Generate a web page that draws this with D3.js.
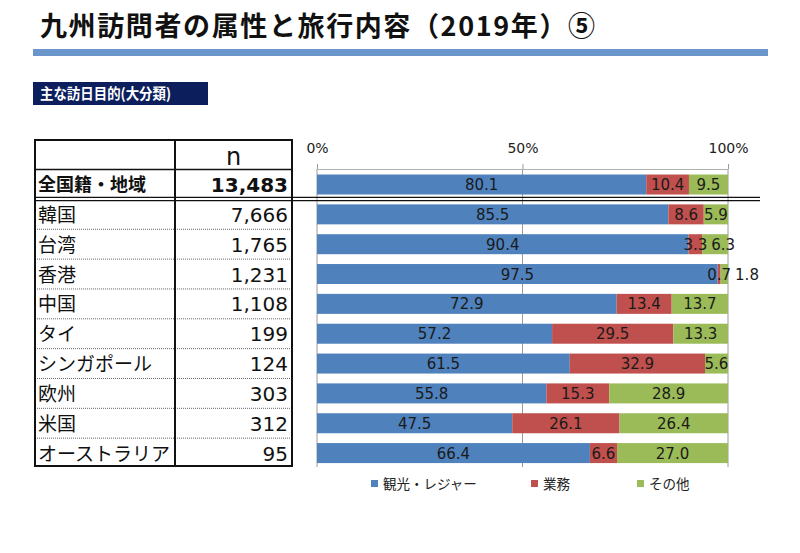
<!DOCTYPE html>
<html><head><meta charset="utf-8">
<script src="https://cdn.jsdelivr.net/npm/d3@7"></script>
<style>
html,body{margin:0;padding:0;background:#fff;}
svg{display:block;}
</style>
</head><body>
<svg id="chart" width="800" height="553"></svg>
<script>
const title = "九州訪問者の属性と旅行内容（2019年）⑤";
const subtitle = "主な訪日目的(大分類)";
const categories = ["全国籍・地域","韓国","台湾","香港","中国","タイ","シンガポール","欧州","米国","オーストラリア"];
const nValues = [13483,7666,1765,1231,1108,199,124,303,312,95];
const seriesNames = ["観光・レジャー","業務","その他"];
const leisure = [80.1,85.5,90.4,97.5,72.9,57.2,61.5,55.8,47.5,66.4];
const business = [10.4,8.6,3.3,0.7,13.4,29.5,32.9,15.3,26.1,6.6];
const other = [9.5,5.9,6.3,1.8,13.7,13.3,5.6,28.9,26.4,27.0];
const tickValues = [0,50,100];
const colors = ["#4f81bd","#c0504d","#9bbb59"];

const svg = d3.select("#chart");
const JP = "'Noto Sans CJK JP', sans-serif";
const NUM = "'DejaVu Sans', sans-serif";

svg.append("rect").attr("width",800).attr("height",553).attr("fill","#fff");

// Title
svg.append("text").attr("x",40).attr("y",36)
  .attr("font-family",JP).attr("font-weight","bold").attr("font-size",27)
  .attr("textLength",555).attr("lengthAdjust","spacing")
  .attr("fill","#111").text(title);
svg.append("rect").attr("x",33).attr("y",49).attr("width",735).attr("height",7).attr("fill","#6a96cc");

// Subtitle box
svg.append("rect").attr("x",33).attr("y",82).attr("width",175).attr("height",23).attr("fill","#0c1f5c");
svg.append("text").attr("x",40).attr("y",99)
  .attr("font-family",JP).attr("font-weight","bold").attr("font-size",14.5)
  .attr("textLength",131).attr("lengthAdjust","spacingAndGlyphs")
  .attr("fill","#fff").text(subtitle);

// Scales
const y = d3.scaleBand().domain(categories).range([169.6,468]).paddingInner(0.33).paddingOuter(0.165);
const x = d3.scaleLinear().domain([0,100]).range([317,728]);
const step = y.step();
const rowTop = c => y(c) - (step - y.bandwidth())/2;

// Table
const tL = 35, tM = 175, tR = 292, tTop = 140;
const tBottom = rowTop(categories[categories.length-1]) + step - 2;
const table = svg.append("g");
categories.forEach((c,i)=>{
  if(i<2) return;
  const yy = rowTop(c);
  table.append("line").attr("x1",tL).attr("x2",tR).attr("y1",yy).attr("y2",yy)
    .attr("stroke","#666").attr("stroke-width",1).attr("stroke-dasharray","1,1");
});
const hSep = rowTop(categories[0]);
table.append("line").attr("x1",tL).attr("x2",tR).attr("y1",hSep).attr("y2",hSep)
  .attr("stroke","#111").attr("stroke-width",1.5);
table.append("rect").attr("x",tL).attr("y",tTop).attr("width",tR-tL).attr("height",tBottom-tTop)
  .attr("fill","none").attr("stroke","#111").attr("stroke-width",2);
table.append("line").attr("x1",tM).attr("x2",tM).attr("y1",tTop).attr("y2",tBottom)
  .attr("stroke","#111").attr("stroke-width",2);
table.append("text").attr("x",(tM+tR)/2).attr("y",165).attr("text-anchor","middle")
  .attr("font-family",NUM).attr("font-size",24).attr("fill","#111").text("n");
categories.forEach((c,i)=>{
  const cy = y(c) + y.bandwidth()/2;
  const bold = i===0;
  table.append("text").attr("x",38).attr("y",cy+(bold?6.5:7.5))
    .attr("font-family",JP).attr("font-size",bold?18:19).attr("font-weight",bold?"bold":"normal")
    .attr("fill","#111").text(c);
  table.append("text").attr("x",288).attr("y",cy+(bold?7:7.5)).attr("text-anchor","end")
    .attr("font-family",NUM).attr("font-size",20).attr("font-weight",bold?"bold":"normal")
    .attr("fill","#111").text(d3.format(",")(nValues[i]));
});

// Chart gridlines
const plotTop = 169, plotBottom = 467;
svg.append("g").selectAll("line").data(tickValues).join("line")
  .attr("x1",d=>x(d)).attr("x2",d=>x(d)).attr("y1",plotTop).attr("y2",plotBottom)
  .attr("stroke","#9a9a9a").attr("stroke-width",1);

const axis = svg.append("g").attr("transform",`translate(0,${plotTop})`)
  .call(d3.axisTop(x).tickValues(tickValues).tickFormat(d=>d+"%").tickSizeInner(5).tickSizeOuter(0).tickPadding(11));
axis.select(".domain").attr("stroke","#b0b0b0");
axis.selectAll(".tick line").attr("stroke","#9a9a9a");
axis.selectAll(".tick text").attr("font-family",NUM).attr("font-size",14).attr("fill","#222");

// Stacked bars
const seriesData = [leisure,business,other];
const rows = categories.map((c,i)=>{
  let acc = 0;
  return seriesData.map((s,k)=>{ const o = {cat:c,k,v:s[i],x0:acc,x1:acc+s[i]}; acc += s[i]; return o; });
});
const barG = svg.append("g");
rows.forEach(segs=>{
  barG.selectAll(null).data(segs).join("rect")
    .attr("x",d=>x(d.x0)).attr("width",d=>x(d.x1)-x(d.x0))
    .attr("y",d=>y(d.cat)).attr("height",y.bandwidth())
    .attr("fill",d=>colors[d.k]);
});

// double line
svg.append("line").attr("x1",tL-1).attr("x2",760).attr("y1",197.3).attr("y2",197.3).attr("stroke","#111").attr("stroke-width",1.3);
svg.append("line").attr("x1",tL-1).attr("x2",760).attr("y1",200.7).attr("y2",200.7).attr("stroke","#111").attr("stroke-width",1.3);

// labels with simple collision avoidance
const labG = svg.append("g");
rows.forEach(segs=>{
  let prevRight = -Infinity;
  segs.forEach(d=>{
    const cx = (x(d.x0)+x(d.x1))/2;
    const t = labG.append("text").attr("y",y(d.cat)+y.bandwidth()/2+5.5)
      .attr("text-anchor","middle").attr("font-family",NUM).attr("font-size",15)
      .attr("fill","#1a1a1a").text(d.v.toFixed(1));
    const w = t.node().getComputedTextLength();
    let px = cx;
    if(px - w/2 < prevRight + 4) px = prevRight + 4 + w/2;
    t.attr("x",px);
    prevRight = px + w/2;
  });
});

// Legend
const legX = [371,531,637];
const leg = svg.append("g");
seriesNames.forEach((n,i)=>{
  leg.append("rect").attr("x",legX[i]).attr("y",480).attr("width",7).attr("height",7).attr("fill",colors[i]);
  leg.append("text").attr("x",legX[i]+12).attr("y",489).attr("font-family",JP).attr("font-size",13.5)
    .attr("fill","#222").text(n);
});
</script>
</body></html>
